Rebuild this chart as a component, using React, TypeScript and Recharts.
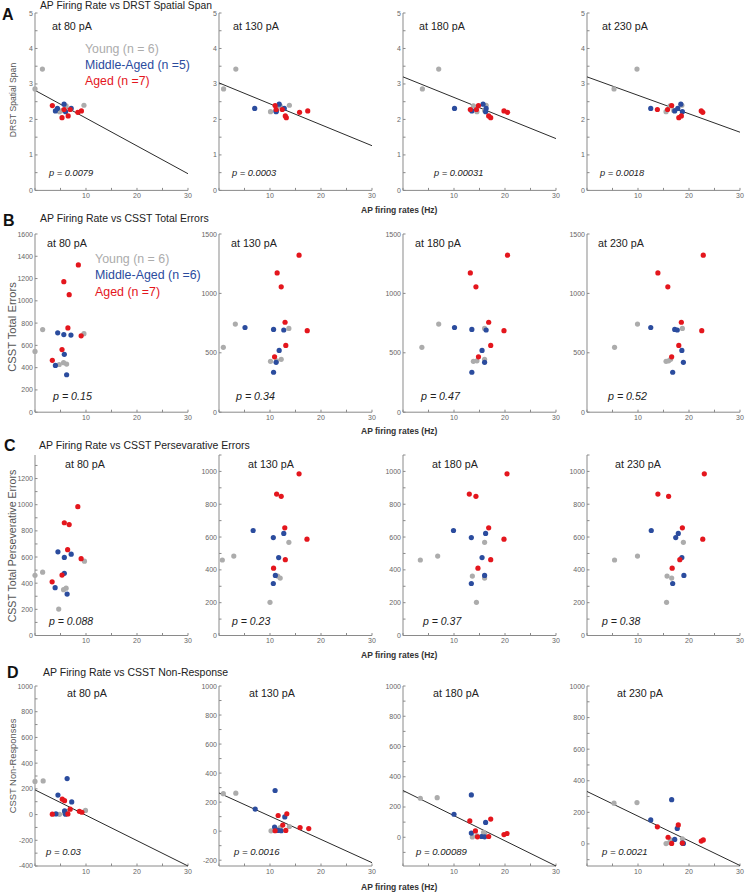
import React from 'react';
import { ScatterChart, Scatter, XAxis, YAxis } from 'recharts';

const FONT = '"Liberation Sans", Arial, Helvetica, sans-serif';
const C_YOUNG = '#acacac';
const C_MIDDLE = '#2b4c9e';
const C_AGED = '#e4161d';

const currents = ['at 80 pA', 'at 130 pA', 'at 180 pA', 'at 230 pA'];
const xTicks = [0, 5, 10, 15, 20, 25, 30];

// ---- Row A: DRST Spatial Span ----
const spanYoungY = [3.42, 2.86, 2.22, 2.4, 2.38, 2.25];
const spanYoungX = [
  [1.45, 0.0, 4.8, 9.6, 6.1, 5.3],
  [3.3, 0.9, 10.1, 13.8, 12.0, 11.3],
  [7.0, 3.8, 14.5, 16.3, 13.8, 16.0],
  [9.8, 5.3, 15.5, 18.6, 16.3, 17.0],
];
const spanMiddleY = [2.31, 2.24, 2.43, 2.31, 2.22];
const spanMiddleX = [
  [4.4, 4.0, 5.7, 7.1, 6.0],
  [7.0, 11.2, 11.8, 12.8, 11.2],
  [10.1, 13.5, 15.7, 16.3, 16.2],
  [12.5, 17.2, 18.4, 17.8, 18.7],
];
const spanAgedY = [2.39, 2.28, 2.05, 2.1, 2.28, 2.2, 2.24];
const spanAgedX = [
  [3.4, 5.7, 5.3, 6.5, 6.9, 8.4, 9.1],
  [11.0, 11.2, 13.2, 13.0, 12.4, 15.8, 17.4],
  [14.8, 13.2, 17.2, 16.8, 14.4, 20.5, 19.8],
  [16.6, 13.8, 18.0, 18.5, 15.8, 22.7, 22.4],
];
const spanFit = [[2.82, 0.47], [3.03, 1.26], [3.2, 1.46], [3.2, 1.64]];

// ---- Row B: CSST Total Errors ----
const totalYoungY = [546, 742, 428, 445, 432, 705];
const totalYoungX = [
  [0.0, 1.5, 4.75, 5.6, 6.2, 9.6],
  [0.85, 3.2, 10.1, 12.2, 11.3, 13.7],
  [3.7, 7.0, 13.8, 16.0, 14.5, 16.0],
  [5.4, 9.9, 15.5, 16.4, 16.0, 18.7],
];
const totalMiddleY = [713, 697, 692, 520, 420, 336];
const totalMiddleX = [
  [4.45, 5.65, 7.05, 5.75, 4.0, 6.2],
  [5.1, 10.7, 12.7, 11.8, 11.2, 10.7],
  [10.1, 13.5, 16.3, 15.5, 16.0, 13.5],
  [12.5, 17.2, 17.7, 18.6, 18.9, 16.8],
];
const totalAgedY = [1322, 1172, 1055, 757, 686, 562, 466];
const totalAgedX = [
  [8.5, 5.65, 6.7, 6.45, 9.05, 5.3, 3.4],
  [15.7, 11.4, 12.2, 12.95, 17.3, 13.1, 10.9],
  [20.5, 13.2, 14.3, 16.8, 19.8, 17.2, 14.8],
  [22.8, 13.9, 15.85, 18.5, 22.5, 18.0, 16.6],
];

// ---- Row C: CSST Perseverative Errors ----
const persYoungY = [460, 484, 202, 350, 362, 568];
const persYoungX = [
  [0.0, 1.5, 4.65, 5.6, 6.1, 9.7],
  [0.65, 2.9, 10.0, 12.0, 11.5, 13.7],
  [3.4, 6.8, 14.4, 16.0, 13.6, 16.0],
  [5.4, 9.9, 15.6, 16.6, 15.7, 18.9],
];
const persMiddleY = [640, 597, 622, 475, 366, 317];
const persMiddleX = [
  [4.5, 5.75, 7.1, 5.75, 3.95, 6.3],
  [6.7, 10.65, 12.7, 11.7, 11.05, 10.65],
  [9.9, 13.4, 16.2, 15.5, 16.0, 13.4],
  [12.6, 17.4, 17.9, 18.6, 19.0, 16.8],
];
const persAgedY = [985, 862, 848, 656, 587, 462, 410];
const persAgedX = [
  [8.4, 5.75, 6.7, 6.4, 9.05, 5.3, 3.36],
  [15.7, 11.3, 12.2, 12.9, 17.25, 13.0, 10.7],
  [20.4, 13.0, 14.3, 16.8, 19.8, 17.2, 14.7],
  [23.0, 13.9, 16.0, 18.7, 22.7, 18.2, 16.7],
];

// ---- Row D: CSST Non-Responses ----
const nonYoungY = [258, 262, 2, 32, 10, 25];
const nonYoungX = [
  [0.0, 1.6, 4.8, 9.9, 5.8, 6.2],
  [0.85, 3.3, 10.2, 13.8, 11.5, 12.0],
  [3.4, 6.7, 13.6, 15.8, 14.5, 16.0],
  [5.3, 9.8, 15.5, 18.7, 16.2, 16.4],
];
const nonMiddleY = [280, 152, 98, 28, 5, 3];
const nonMiddleX = [
  [6.3, 4.5, 7.2, 5.8, 4.1, 6.0],
  [11.0, 7.1, 12.9, 10.9, 11.6, 12.2],
  [13.4, 10.0, 16.2, 13.4, 15.4, 16.0],
  [16.6, 12.5, 17.7, 17.2, 18.7, 18.9],
];
const nonAgedY = [3, 120, 108, 5, 42, 25, 18];
const nonAgedX = [
  [3.4, 5.35, 5.8, 6.45, 6.9, 8.7, 9.2],
  [11.0, 13.3, 11.6, 13.1, 12.5, 15.9, 17.6],
  [14.6, 17.2, 13.1, 16.8, 14.2, 20.4, 19.8],
  [16.6, 17.9, 13.8, 18.7, 15.9, 22.8, 22.4],
];
const nonFit = [[192, -400], [263, -217], [309, -190], [332, -137]];

const pValues = [
  ['0.0079', '0.0003', '0.00031', '0.0018'],
  ['0.15', '0.34', '0.47', '0.52'],
  ['0.088', '0.23', '0.37', '0.38'],
  ['0.03', '0.0016', '0.00089', '0.0021'],
];
const rowLetters = ['A', 'B', 'C', 'D'];
const rowTitles = [
  'AP Firing Rate vs DRST Spatial Span',
  'AP Firing Rate vs CSST Total Errors',
  'AP Firing Rate vs CSST Persevarative Errors',
  'AP Firing Rate vs CSST Non-Response',
];
const yTitles = ['DRST Spatial Span', 'CSST Total Errors', 'CSST Total Perseverative Errors', 'CSST Non-Responses'];
const legendA = ['Young (n = 6)', 'Middle-Aged (n =5)', 'Aged (n =7)'];
const legendB = ['Young (n = 6)', 'Middle-Aged (n =6)', 'Aged (n =7)'];

// ---- layout ----
const colLeft = [35, 219, 403, 587];
const PLOT_W = 153;
const rowTop = [13.3, 234.3, 455, 686];
const rowBottom = [190.7, 412.5, 635.5, 866];

const range = (a: number, b: number, s: number) => {
  const out: number[] = [];
  for (let v = a; v <= b + 1e-9; v += s) out.push(Math.round(v * 100) / 100);
  return out;
};

type AxisSpec = { domain: [number, number]; ticks: number[]; major: (v: number) => boolean };

const yAxes: AxisSpec[][] = [
  [0, 1, 2, 3].map(() => ({ domain: [0, 5] as [number, number], ticks: range(0, 5, 0.5), major: (v: number) => Number.isInteger(v) })),
  [
    { domain: [0, 1600], ticks: range(0, 1600, 200), major: () => true },
    { domain: [0, 1500], ticks: [0, 500, 1000, 1500], major: () => true },
    { domain: [0, 1500], ticks: [0, 500, 1000, 1500], major: () => true },
    { domain: [0, 1500], ticks: [0, 500, 1000, 1500], major: () => true },
  ],
  [
    { domain: [0, 1380], ticks: range(0, 1300, 100), major: (v) => v % 200 === 0 && v <= 1200 },
    { domain: [0, 1100], ticks: range(0, 1100, 100), major: (v) => v % 200 === 0 && v <= 1000 },
    { domain: [0, 1100], ticks: range(0, 1100, 100), major: (v) => v % 200 === 0 && v <= 1000 },
    { domain: [0, 1100], ticks: range(0, 1100, 100), major: (v) => v % 200 === 0 && v <= 1000 },
  ],
  [
    { domain: [-400, 1000], ticks: range(-400, 1000, 100), major: (v) => v % 200 === 0 },
    { domain: [-240, 1000], ticks: range(-200, 1000, 100), major: (v) => v % 200 === 0 },
    { domain: [-190, 1000], ticks: range(-100, 1000, 100), major: (v) => v % 200 === 0 },
    { domain: [-140, 1000], ticks: range(-100, 1000, 100), major: (v) => v % 200 === 0 },
  ],
];

const rowData = [
  { young: [spanYoungY, spanYoungX], middle: [spanMiddleY, spanMiddleX], aged: [spanAgedY, spanAgedX], fit: spanFit },
  { young: [totalYoungY, totalYoungX], middle: [totalMiddleY, totalMiddleX], aged: [totalAgedY, totalAgedX], fit: null },
  { young: [persYoungY, persYoungX], middle: [persMiddleY, persMiddleX], aged: [persAgedY, persAgedX], fit: null },
  { young: [nonYoungY, nonYoungX], middle: [nonMiddleY, nonMiddleX], aged: [nonAgedY, nonAgedX], fit: nonFit },
] as any[];

const pts = (ys: number[], xsAll: number[][], col: number) => xsAll[col].map((x, i) => ({ x, y: ys[i] }));

const makeDot = (color: string) => (props: any) => {
  if (props == null || props.cx == null || props.cy == null) return <g />;
  return <circle cx={props.cx} cy={props.cy} r={2.6} fill={color} />;
};
const dotYoung = makeDot(C_YOUNG);
const dotMiddle = makeDot(C_MIDDLE);
const dotAged = makeDot(C_AGED);
const noDot = () => <g />;

const YW = 40;
const MT = 3;
const XH = 18;
const MR = 6;
const AXIS_COLOR = '#8a8a8a';
const tickStyle = { fill: '#666', stroke: 'none', fontSize: 7, fontFamily: FONT };

function Panel({ row, col }: { row: number; col: number }) {
  const top = rowTop[row];
  const bottom = rowBottom[row];
  const plotH = bottom - top;
  const spec = yAxes[row][col];
  const d = rowData[row];
  const width = YW + PLOT_W + MR;
  const height = MT + plotH + XH;
  const fitData = d.fit ? [{ x: 0, y: d.fit[col][0] }, { x: 30, y: d.fit[col][1] }] : null;
  return (
    <div style={{ position: 'absolute', left: colLeft[col] - YW, top: top - MT }}>
      <ScatterChart width={width} height={height} margin={{ top: MT, right: MR, bottom: 0, left: 0 }}>
        <XAxis
          type="number"
          dataKey="x"
          domain={[0, 30]}
          ticks={xTicks}
          interval={0}
          height={XH}
          stroke={AXIS_COLOR}
          tickFormatter={(v: number) => (v === 10 || v === 20 || v === 30 ? String(v) : '')}
          tick={tickStyle}
          tickSize={-2.5}
          tickMargin={5.3}
          axisLine={{ stroke: AXIS_COLOR }}
          tickLine={{ stroke: AXIS_COLOR }}
        />
        <YAxis
          type="number"
          dataKey="y"
          domain={spec.domain}
          ticks={spec.ticks}
          interval={0}
          width={YW}
          stroke={AXIS_COLOR}
          tickFormatter={(v: number) => (spec.major(v) ? String(v) : '')}
          tick={tickStyle}
          tickSize={-2.5}
          tickMargin={4.5}
          axisLine={{ stroke: AXIS_COLOR }}
          tickLine={{ stroke: AXIS_COLOR }}
        />
        {fitData && (
          <Scatter data={fitData} line={{ stroke: '#2a2a2a', strokeWidth: 1 }} shape={noDot} isAnimationActive={false} />
        )}
        <Scatter data={pts(d.young[0], d.young[1], col)} shape={dotYoung} isAnimationActive={false} />
        <Scatter data={pts(d.middle[0], d.middle[1], col)} shape={dotMiddle} isAnimationActive={false} />
        <Scatter data={pts(d.aged[0], d.aged[1], col)} shape={dotAged} isAnimationActive={false} />
      </ScatterChart>
    </div>
  );
}

// text placement
const currentOffsets = [[17, 14, 16, 15], [12, 12, 12, 11], [30, 29, 29, 28], [32, 30, 30, 30]];
const currentY = [26, 243, 464, 692.7];
const pOffsets = [[14, 13, 31, 13], [18, 17, 18, 21], [14, 13, 20, 15], [11, 15, 13, 15]];
const pY = [173.3, 395.7, 621, 851.5];
const pSize = [9.3, 10.7, 10.5, 9.6];
const letterPos = [[2, 14], [3, 220], [4, 445], [7, 672]];
const titlePos = [[40, 5], [40, 218], [39, 445], [43, 672]];
const yTitlePos = [[12.5, 100, 8.6], [12, 327, 11.2], [12, 546, 10.6], [12, 766, 9.4]];
const xTitleY = [209.5, 431, 655, 887];

export default function App() {
  const rows = [0, 1, 2, 3];
  const cols = [0, 1, 2, 3];
  return (
    <div style={{ position: 'absolute', left: 0, top: 0, width: 746, height: 892, background: '#fff', overflow: 'hidden' }}>
      {rows.map((r) => cols.map((c) => <Panel key={`${r}-${c}`} row={r} col={c} />))}
      <svg width={746} height={892} style={{ position: 'absolute', left: 0, top: 0, pointerEvents: 'none' }} fontFamily={FONT}>
        {rows.map((r) => (
          <g key={`row-${r}`}>
            <text x={letterPos[r][0]} y={letterPos[r][1]} fontSize={16} fontWeight="bold" fill="#111" dominantBaseline="central">
              {rowLetters[r]}
            </text>
            <text x={titlePos[r][0]} y={titlePos[r][1]} fontSize={r === 0 ? 10.3 : 10.5} fill="#222" dominantBaseline="central">
              {rowTitles[r]}
            </text>
            <text
              x={yTitlePos[r][0]}
              y={yTitlePos[r][1]}
              fontSize={yTitlePos[r][2]}
              fill="#555"
              textAnchor="middle"
              dominantBaseline="central"
              transform={`rotate(-90 ${yTitlePos[r][0]} ${yTitlePos[r][1]})`}
            >
              {yTitles[r]}
            </text>
            <text x={361} y={xTitleY[r]} fontSize={8.5} fontWeight="bold" fill="#333" dominantBaseline="central">
              AP firing rates (Hz)
            </text>
            {cols.map((c) => (
              <g key={`lab-${r}-${c}`}>
                <text x={colLeft[c] + currentOffsets[r][c]} y={currentY[r]} fontSize={10.7} fill="#222" dominantBaseline="central">
                  {currents[c]}
                </text>
                <text x={colLeft[c] + pOffsets[r][c]} y={pY[r]} fontSize={pSize[r]} fontStyle="italic" fill="#222" dominantBaseline="central">
                  {`p = ${pValues[r][c]}`}
                </text>
              </g>
            ))}
          </g>
        ))}
        {legendA.map((t, i) => (
          <text key={`la-${i}`} x={85} y={49 + i * 16} fontSize={12.3} fill={[C_YOUNG, C_MIDDLE, C_AGED][i]} dominantBaseline="central">
            {t}
          </text>
        ))}
        {legendB.map((t, i) => (
          <text key={`lb-${i}`} x={95} y={259 + i * 16.4} fontSize={12.4} fill={[C_YOUNG, C_MIDDLE, C_AGED][i]} dominantBaseline="central">
            {t}
          </text>
        ))}
      </svg>
    </div>
  );
}
